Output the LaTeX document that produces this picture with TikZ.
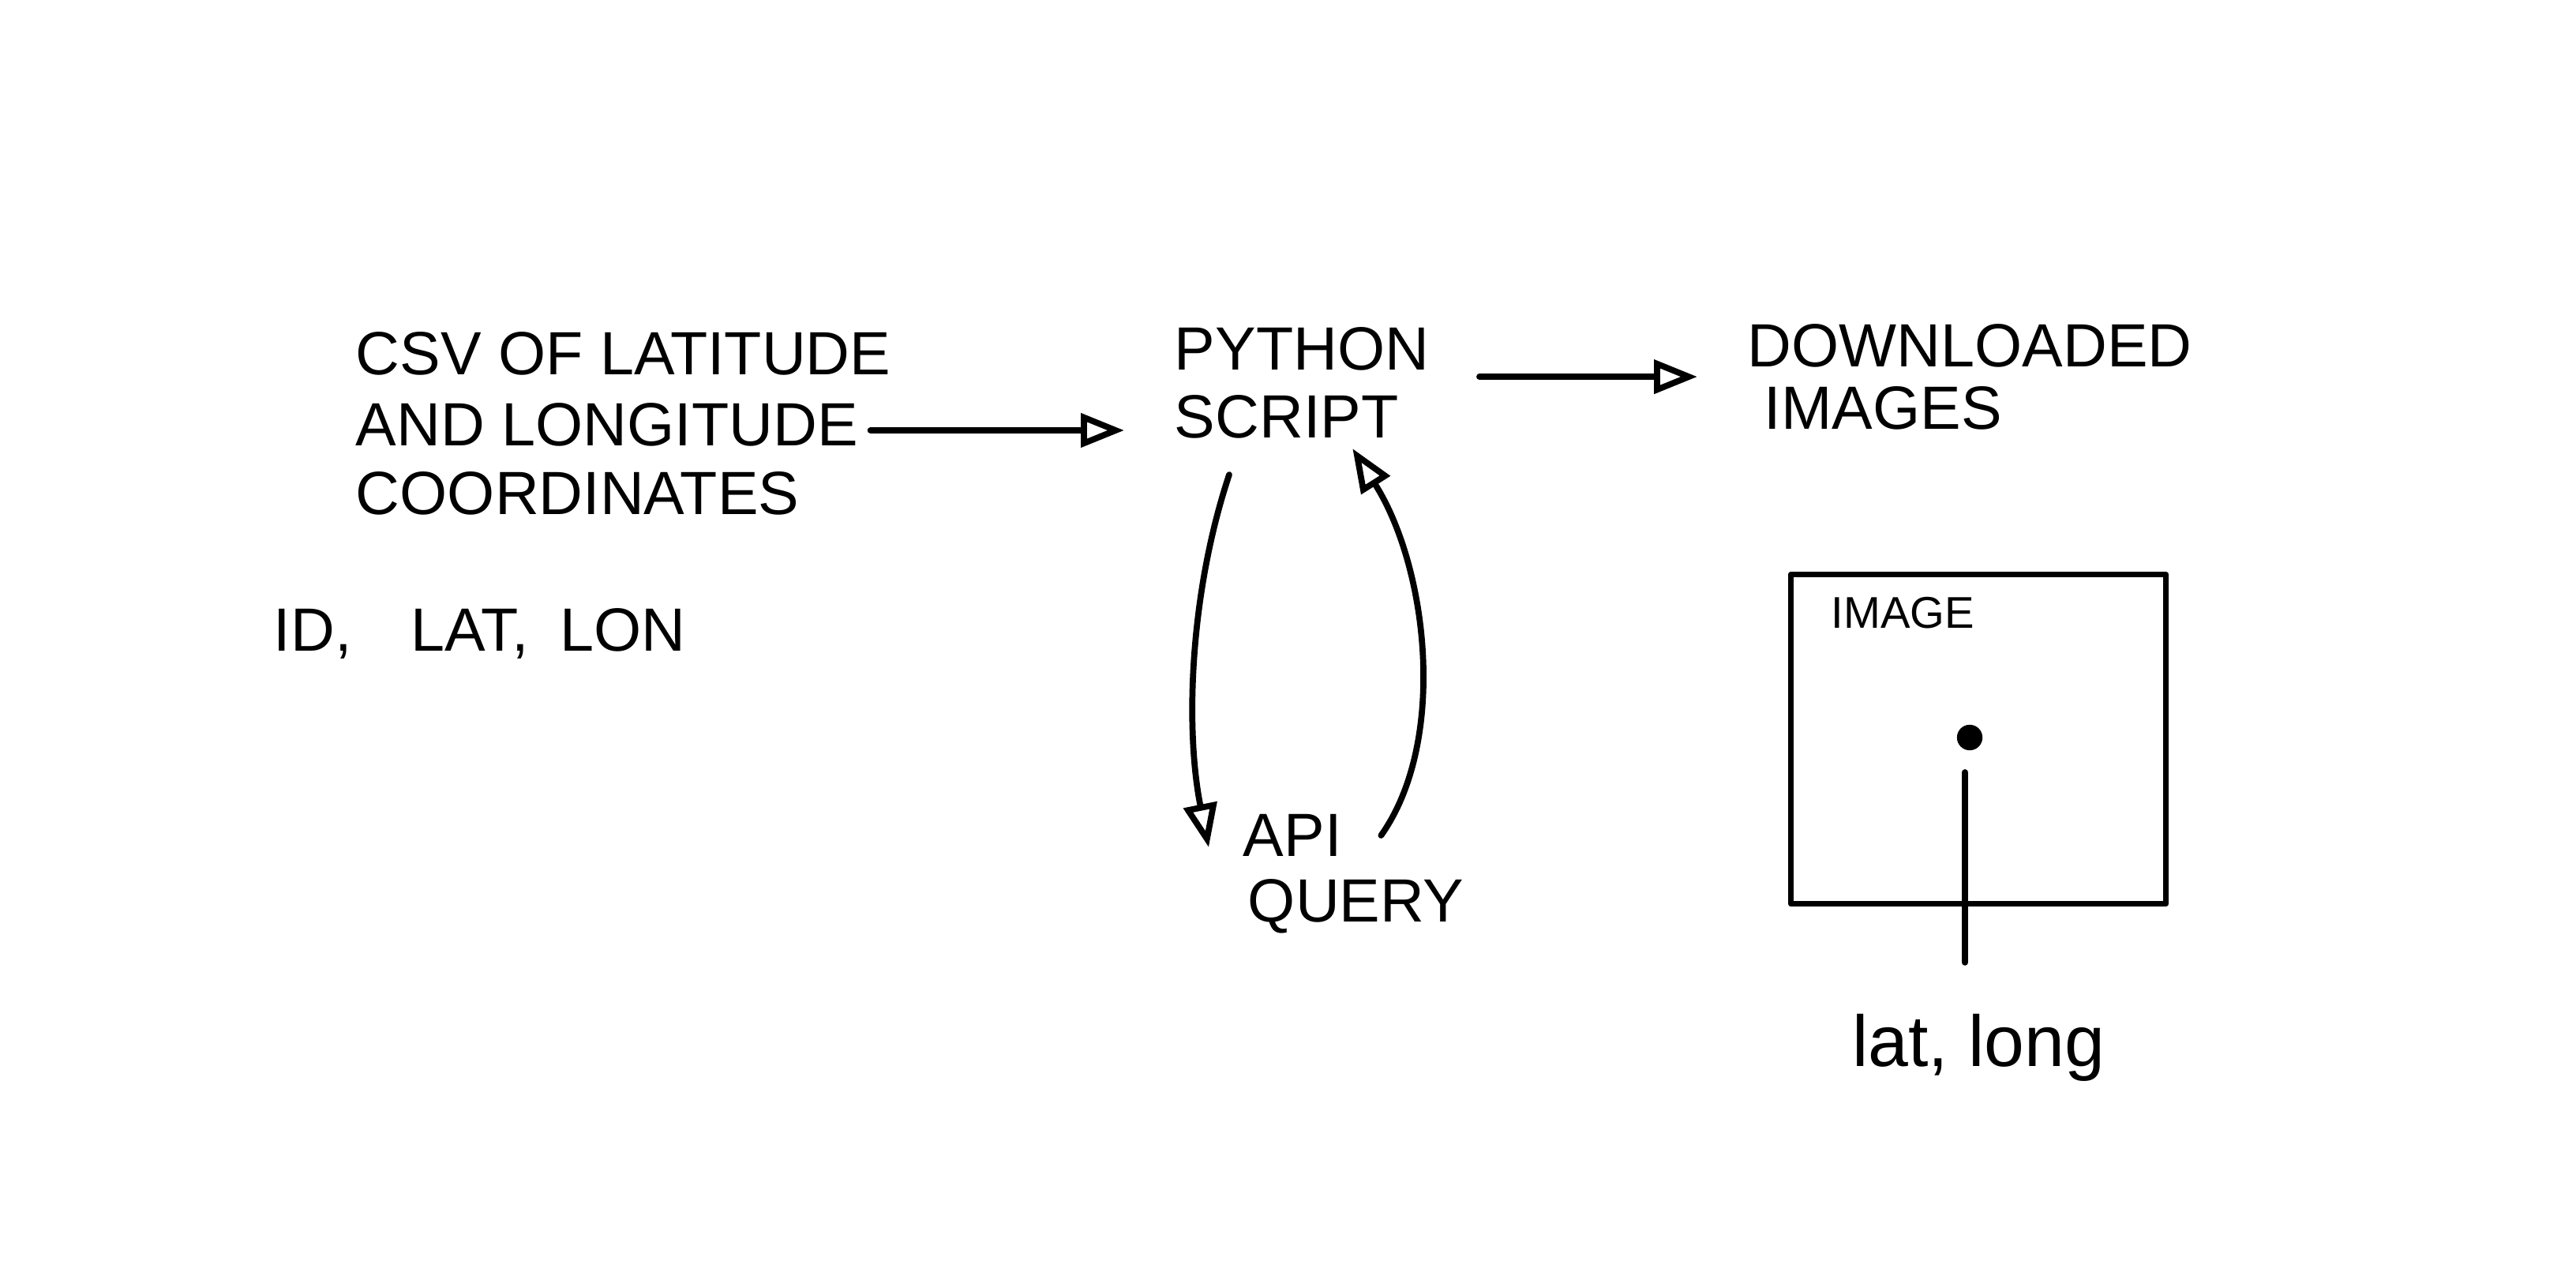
\documentclass[tikz,border=0pt]{standalone}
\usepackage{fontspec}
\setmainfont{Liberation Sans}
\usetikzlibrary{arrows.meta}

\begin{document}
\begin{tikzpicture}[text height=1.5ex, text depth=.25ex, line width=2.2pt, line cap=round, line join=round]
    \tikzset{%
      hand/.style={inner sep=0pt, anchor=west, font=\fontsize{22}{26}\selectfont},
      small/.style={hand, font=\fontsize{16}{19}\selectfont},
      flow/.style={-{Triangle[open, length=0.55cm, width=0.42cm]}, shorten <=0.6cm, shorten >=0.6cm},
      loopy/.style={-{Triangle[open, length=0.55cm, width=0.42cm]}}
      }
    \useasboundingbox (0,0) rectangle (32.63,16.01);

    \node [hand] (Xcsv) at (4.47, 11.38) {CSV OF LATITUDE};
    \node [hand] (Xlon) at (4.47, 10.48) {AND LONGITUDE};
    \node [hand] (Xcoo) at (4.47, 9.61) {COORDINATES};
    \node [hand] (Xids) at (3.43, 7.88) {ID,\hspace{0.75cm}LAT,\hspace{0.4cm}LON};

    \node [hand] (Xpy) at (14.84, 11.44) {PYTHON};
    \node [hand] (Xscr) at (14.84, 10.58) {SCRIPT};
    \draw [flow, shorten <=0.12cm] ([yshift=0.08cm]Xlon.east) -- ([yshift=0.08cm]Xlon.east -| Xscr.west);

    \node [hand] (Xdl) at (22.10, 11.48) {DOWNLOADED};
    \node [hand] (Ximgs) at (22.31, 10.69) {IMAGES};
    \draw [flow] (Xpy.south east) -- (Xpy.south east -| Xdl.west);

    \node [hand] (Xapi) at (15.71, 5.28) {API};
    \node [hand] (Xqry) at (15.77, 4.45) {QUERY};
    \draw [loopy] ([xshift=0.73cm, yshift=-0.38cm]Xscr.south west) .. controls +(-0.5,-1.5) and +(-0.3,1.5) .. ([xshift=-0.4cm]Xapi.west);
    \draw [loopy] ([xshift=0.46cm, yshift=0.15cm]Xapi.east) .. controls +(0.85,1.2) and +(0.95,-1.5) .. ([xshift=-0.62cm, yshift=-0.05cm]Xscr.south east);

    \node [draw, minimum width=4.75cm, minimum height=4.17cm] (Ximg) at (25.06, 6.65) {};
    \node [small] (Xtag) at (23.16, 8.17) {IMAGE};
    \node [circle, fill, inner sep=0pt, minimum size=0.13cm] (Xdot) at (24.95, 6.67) {};
    \coordinate (Xpin) at (24.89, 6.23);
    \node [inner sep=0pt, font=\fontsize{26}{30}\selectfont] (Xll) at (25.06, 2.62) {lat, long};
    \draw [shorten <=1.0cm] (Xll.north -| Xpin) -- (Xpin);
  \end{tikzpicture}
\end{document}
